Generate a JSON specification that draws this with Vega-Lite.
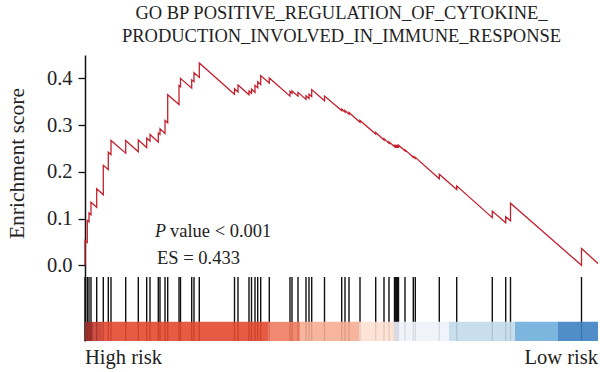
{
  "$schema": "https://vega.github.io/schema/vega-lite/v6.json",
  "width": 513,
  "height": 286,
  "autosize": {"type": "none"},
  "padding": {"left": 85, "top": 55, "right": 2, "bottom": 31},
  "background": "white",
  "config": {
    "view": {"stroke": null},
    "font": "Liberation Serif",
    "axis": {"labelFont": "Liberation Serif", "titleFont": "Liberation Serif"}
  },
  "title": {
    "text": ["GO BP POSITIVE_REGULATION_OF_CYTOKINE_", "PRODUCTION_INVOLVED_IN_IMMUNE_RESPONSE"],
    "font": "Liberation Serif",
    "fontSize": 18.5,
    "fontWeight": "normal",
    "color": "#222222",
    "anchor": "middle",
    "lineHeight": 23,
    "offset": 10
  },
  "datasets": {
    "curve": [
      {"o": 1, "x": 0, "es": 0}, {"o": 2, "x": 0, "es": 0.053},
      {"o": 3, "x": 2.3, "es": 0.049}, {"o": 4, "x": 2.3, "es": 0.096},
      {"o": 5, "x": 4, "es": 0.093}, {"o": 6, "x": 4, "es": 0.112},
      {"o": 7, "x": 6, "es": 0.108}, {"o": 8, "x": 6, "es": 0.135},
      {"o": 9, "x": 11.7, "es": 0.124}, {"o": 10, "x": 11.7, "es": 0.164},
      {"o": 11, "x": 18.3, "es": 0.151}, {"o": 12, "x": 18.3, "es": 0.214},
      {"o": 13, "x": 23.3, "es": 0.205}, {"o": 14, "x": 23.3, "es": 0.242},
      {"o": 15, "x": 26, "es": 0.237}, {"o": 16, "x": 26, "es": 0.267},
      {"o": 17, "x": 40.7, "es": 0.240}, {"o": 18, "x": 40.7, "es": 0.267},
      {"o": 19, "x": 53.3, "es": 0.243}, {"o": 20, "x": 53.3, "es": 0.268},
      {"o": 21, "x": 61.7, "es": 0.252}, {"o": 22, "x": 61.7, "es": 0.272},
      {"o": 23, "x": 65, "es": 0.266}, {"o": 24, "x": 65, "es": 0.280},
      {"o": 25, "x": 73.3, "es": 0.264}, {"o": 26, "x": 73.3, "es": 0.283},
      {"o": 27, "x": 75, "es": 0.280}, {"o": 28, "x": 75, "es": 0.292},
      {"o": 29, "x": 80, "es": 0.282}, {"o": 30, "x": 80, "es": 0.310},
      {"o": 31, "x": 82.7, "es": 0.305}, {"o": 32, "x": 82.7, "es": 0.365},
      {"o": 33, "x": 94, "es": 0.344}, {"o": 34, "x": 94, "es": 0.385},
      {"o": 35, "x": 95.5, "es": 0.382}, {"o": 36, "x": 95.5, "es": 0.400},
      {"o": 37, "x": 106.7, "es": 0.379}, {"o": 38, "x": 106.7, "es": 0.397},
      {"o": 39, "x": 109, "es": 0.393}, {"o": 40, "x": 109, "es": 0.412},
      {"o": 41, "x": 114.3, "es": 0.402}, {"o": 42, "x": 114.3, "es": 0.433},
      {"o": 43, "x": 149.5, "es": 0.366}, {"o": 44, "x": 149.5, "es": 0.378},
      {"o": 45, "x": 153, "es": 0.371}, {"o": 46, "x": 153, "es": 0.386},
      {"o": 47, "x": 164, "es": 0.365}, {"o": 48, "x": 164, "es": 0.373},
      {"o": 49, "x": 166.5, "es": 0.368}, {"o": 50, "x": 166.5, "es": 0.377},
      {"o": 51, "x": 170, "es": 0.370}, {"o": 52, "x": 170, "es": 0.385},
      {"o": 53, "x": 172.7, "es": 0.380}, {"o": 54, "x": 172.7, "es": 0.393},
      {"o": 55, "x": 175.7, "es": 0.387}, {"o": 56, "x": 175.7, "es": 0.406},
      {"o": 57, "x": 184.3, "es": 0.390}, {"o": 58, "x": 184.3, "es": 0.401},
      {"o": 59, "x": 205, "es": 0.362}, {"o": 60, "x": 205, "es": 0.372},
      {"o": 61, "x": 207, "es": 0.368}, {"o": 62, "x": 207, "es": 0.373},
      {"o": 63, "x": 213, "es": 0.362}, {"o": 64, "x": 213, "es": 0.370},
      {"o": 65, "x": 221, "es": 0.355}, {"o": 66, "x": 221, "es": 0.363},
      {"o": 67, "x": 224, "es": 0.357}, {"o": 68, "x": 224, "es": 0.366},
      {"o": 69, "x": 226.7, "es": 0.361}, {"o": 70, "x": 226.7, "es": 0.376},
      {"o": 71, "x": 239.5, "es": 0.352}, {"o": 72, "x": 239.5, "es": 0.362},
      {"o": 73, "x": 256.7, "es": 0.331}, {"o": 74, "x": 256.7, "es": 0.334},
      {"o": 75, "x": 260, "es": 0.328}, {"o": 76, "x": 260, "es": 0.331},
      {"o": 77, "x": 264, "es": 0.323}, {"o": 78, "x": 264, "es": 0.327},
      {"o": 79, "x": 275, "es": 0.306}, {"o": 80, "x": 275, "es": 0.310},
      {"o": 81, "x": 290.7, "es": 0.281}, {"o": 82, "x": 290.7, "es": 0.284},
      {"o": 83, "x": 299, "es": 0.268}, {"o": 84, "x": 299, "es": 0.271},
      {"o": 85, "x": 304, "es": 0.261}, {"o": 86, "x": 304, "es": 0.264},
      {"o": 87, "x": 309.5, "es": 0.254}, {"o": 88, "x": 309.5, "es": 0.256},
      {"o": 89, "x": 310.5, "es": 0.254}, {"o": 90, "x": 310.5, "es": 0.256},
      {"o": 91, "x": 311.5, "es": 0.254}, {"o": 92, "x": 311.5, "es": 0.256},
      {"o": 93, "x": 312.5, "es": 0.254}, {"o": 94, "x": 312.5, "es": 0.256},
      {"o": 95, "x": 313.5, "es": 0.254}, {"o": 96, "x": 313.5, "es": 0.257},
      {"o": 97, "x": 320, "es": 0.245}, {"o": 98, "x": 320, "es": 0.247},
      {"o": 99, "x": 328.3, "es": 0.231}, {"o": 100, "x": 328.3, "es": 0.233},
      {"o": 101, "x": 330.3, "es": 0.229}, {"o": 102, "x": 330.3, "es": 0.231},
      {"o": 103, "x": 354.3, "es": 0.185}, {"o": 104, "x": 354.3, "es": 0.195},
      {"o": 105, "x": 371.7, "es": 0.162}, {"o": 106, "x": 371.7, "es": 0.170},
      {"o": 107, "x": 407.3, "es": 0.102}, {"o": 108, "x": 407.3, "es": 0.116},
      {"o": 109, "x": 420.7, "es": 0.091}, {"o": 110, "x": 420.7, "es": 0.104},
      {"o": 111, "x": 425.5, "es": 0.095}, {"o": 112, "x": 425.5, "es": 0.133},
      {"o": 113, "x": 496.5, "es": 0.000}, {"o": 114, "x": 496.5, "es": 0.036},
      {"o": 115, "x": 513, "es": 0.004}
    ],
    "hits": [
      {"x": 0}, {"x": 2.3}, {"x": 4}, {"x": 6}, {"x": 11.7}, {"x": 18.3}, {"x": 23.3}, {"x": 26},
      {"x": 40.7}, {"x": 53.3}, {"x": 61.7}, {"x": 65}, {"x": 73.3}, {"x": 75}, {"x": 80}, {"x": 82.7},
      {"x": 94}, {"x": 95.5}, {"x": 106.7}, {"x": 109}, {"x": 114.3}, {"x": 149.5}, {"x": 153},
      {"x": 164}, {"x": 166.5}, {"x": 170}, {"x": 172.7}, {"x": 175.7}, {"x": 184.3}, {"x": 205},
      {"x": 207}, {"x": 213}, {"x": 221}, {"x": 224}, {"x": 226.7}, {"x": 239.5}, {"x": 256.7},
      {"x": 260}, {"x": 264}, {"x": 275}, {"x": 290.7}, {"x": 299}, {"x": 304}, {"x": 309.5},
      {"x": 310.5}, {"x": 311.5}, {"x": 312.5}, {"x": 313.5}, {"x": 320}, {"x": 328.3}, {"x": 330.3},
      {"x": 354.3}, {"x": 371.7}, {"x": 407.3}, {"x": 420.7}, {"x": 425.5}, {"x": 496.5}
    ],
    "bar": [
      {"x": 0, "x2": 8, "c": "#A32B27"},
      {"x": 8, "x2": 17, "c": "#C63A2C"},
      {"x": 17, "x2": 183, "c": "#E2492F"},
      {"x": 183, "x2": 215, "c": "#EE7C61"},
      {"x": 215, "x2": 274, "c": "#F5AD91"},
      {"x": 274, "x2": 309, "c": "#FCE0D1"},
      {"x": 309, "x2": 364, "c": "#EEF3F9"},
      {"x": 364, "x2": 430, "c": "#C2DAEA"},
      {"x": 430, "x2": 473, "c": "#6EADDA"},
      {"x": 473, "x2": 513, "c": "#3E82C2"}
    ],
    "notes": [
      {"x": 70, "y": 0.0606, "t": "P"}
    ],
    "notes2": [
      {"x": 85, "y": 0.0606, "t": "value < 0.001"},
      {"x": 72, "y": 0.0036, "t": "ES = 0.433"}
    ],
    "ends": [
      {"x": 0, "y": -0.212, "t": "High risk"}
    ],
    "ends2": [
      {"x": 513, "y": -0.212, "t": "Low risk"}
    ]
  },
  "layer": [
    {
      "data": {"name": "hits"},
      "mark": {"type": "rule", "color": "#111111", "strokeWidth": 1.4},
      "encoding": {
        "x": {"field": "x", "type": "quantitative", "scale": {"domain": [0, 513], "nice": false, "zero": false}, "axis": null},
        "y": {"datum": -0.025, "type": "quantitative"},
        "y2": {"datum": -0.162}
      }
    },
    {
      "data": {"name": "bar"},
      "mark": {"type": "rect", "opacity": 0.9},
      "encoding": {
        "x": {"field": "x", "type": "quantitative"},
        "x2": {"field": "x2"},
        "y": {"datum": -0.121, "type": "quantitative"},
        "y2": {"datum": -0.162},
        "color": {"field": "c", "type": "nominal", "scale": null, "legend": null}
      }
    },
    {
      "data": {"name": "curve"},
      "mark": {"type": "line", "color": "#C4212F", "strokeWidth": 1.3},
      "encoding": {
        "x": {"field": "x", "type": "quantitative"},
        "y": {
          "field": "es", "type": "quantitative",
          "scale": {"domain": [-0.162, 0.45], "nice": false, "zero": false},
          "axis": {
            "title": "Enrichment score",
            "values": [0, 0.1, 0.2, 0.3, 0.4],
            "format": ".1f",
            "grid": false,
            "domainColor": "#111111",
            "domainWidth": 1.5,
            "tickColor": "#111111",
            "tickWidth": 1.3,
            "tickSize": 7,
            "labelFontSize": 20.5,
            "labelColor": "#222222",
            "labelPadding": 6,
            "titleFontSize": 21.5,
            "titleFontWeight": "normal",
            "titleColor": "#222222",
            "titlePadding": 18,
            "titleY": 108
          }
        },
        "order": {"field": "o", "type": "quantitative"}
      }
    },
    {
      "data": {"name": "notes"},
      "mark": {"type": "text", "font": "Liberation Serif", "fontSize": 18, "fontStyle": "italic", "align": "left", "baseline": "alphabetic", "color": "#222222"},
      "encoding": {
        "x": {"field": "x", "type": "quantitative"},
        "y": {"field": "y", "type": "quantitative"},
        "text": {"field": "t"}
      }
    },
    {
      "data": {"name": "notes2"},
      "mark": {"type": "text", "font": "Liberation Serif", "fontSize": 18.5, "align": "left", "baseline": "alphabetic", "color": "#222222"},
      "encoding": {
        "x": {"field": "x", "type": "quantitative"},
        "y": {"field": "y", "type": "quantitative"},
        "text": {"field": "t"}
      }
    },
    {
      "data": {"name": "ends"},
      "mark": {"type": "text", "font": "Liberation Serif", "fontSize": 20.5, "align": "left", "baseline": "alphabetic", "color": "#222222"},
      "encoding": {
        "x": {"field": "x", "type": "quantitative"},
        "y": {"field": "y", "type": "quantitative"},
        "text": {"field": "t"}
      }
    },
    {
      "data": {"name": "ends2"},
      "mark": {"type": "text", "font": "Liberation Serif", "fontSize": 20.5, "align": "right", "baseline": "alphabetic", "color": "#222222"},
      "encoding": {
        "x": {"field": "x", "type": "quantitative"},
        "y": {"field": "y", "type": "quantitative"},
        "text": {"field": "t"}
      }
    }
  ]
}
